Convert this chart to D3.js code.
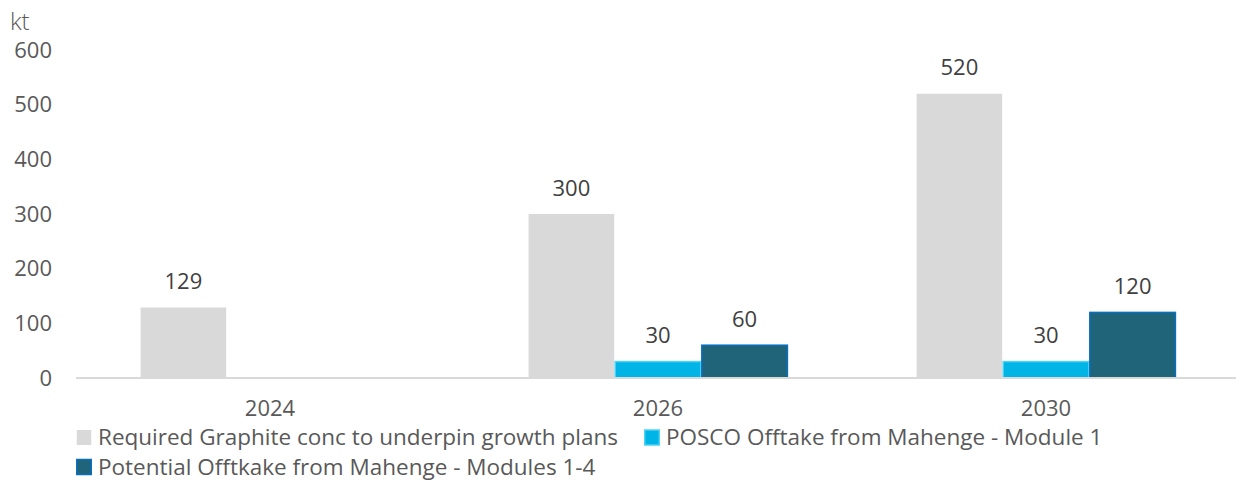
<!DOCTYPE html>
<html><head><meta charset="utf-8">
<script src="https://cdn.jsdelivr.net/npm/d3@7"></script>
<style>body{margin:0;background:#fff}svg{display:block}text{font-family:"Open Sans",sans-serif}</style>
</head><body><svg id="c" width="1236" height="483"></svg>
<script>
const categories = ["2024", "2026", "2030"];
const seriesNames = ["Required Graphite conc to underpin growth plans", "POSCO Offtake from Mahenge - Module 1", "Potential Offtkake from Mahenge - Modules 1-4"];
const required = [129, 300, 520];
const posco = [null, 30, 30];
const potential = [null, 60, 120];
const yTicks = [0, 100, 200, 300, 400, 500, 600];
const unitLabel = "kt";

const fills = ["#D9D9D9", "#00B4E6", "#1F6478"];
const strokes = ["#D9D9D9", "#4DD2F5", "#0A6FC0"];
const series = [required, posco, potential];

const svg = d3.select("#c");
const x = d3.scaleBand().domain(categories).range([76, 1240]);
const y = d3.scaleLinear().domain([0, 600]).range([378, 50]);
const inner = d3.scaleBand().domain(d3.range(3)).range([0, x.bandwidth()]).paddingOuter(0.74).paddingInner(0);

// y tick labels
svg.append("g").selectAll("text").data(yTicks).join("text")
  .attr("x", 52).attr("y", d => y(d)).attr("dy", "0.35em")
  .attr("text-anchor", "end").attr("fill", "#595959").style("font-size", "22px")
  .text(d => d);
svg.append("text").attr("x", 10).attr("y", 30)
  .attr("fill", "#595959").style("font-size", "24px").style("font-weight", 300).text(unitLabel);

// bars
series.forEach((vals, si) => {
  const g = svg.append("g");
  categories.forEach((c, ci) => {
    const v = vals[ci];
    if (v == null) return;
    const x0 = x(c) + inner(si);
    g.append("rect").attr("x", x0 + 0.5).attr("y", y(v)).attr("width", inner.bandwidth() - 1)
      .attr("height", y(0) - y(v)).attr("fill", fills[si])
      .attr("stroke", strokes[si]).attr("stroke-width", si === 0 ? 0 : 1.5);
    g.append("text").attr("x", x0 + inner.bandwidth() / 2).attr("y", y(v) - 26).attr("dy", "0.35em")
      .attr("text-anchor", "middle").attr("fill", "#404040").style("font-size", "22px").text(v);
  });
});

// x axis
svg.append("line").attr("x1", 76).attr("x2", 1236).attr("y1", y(0)).attr("y2", y(0))
  .attr("stroke", "#D9D9D9").attr("stroke-width", 2);
svg.append("g").selectAll("text").data(categories).join("text")
  .attr("x", d => x(d) + x.bandwidth() / 2).attr("y", 408).attr("dy", "0.35em")
  .attr("text-anchor", "middle").attr("fill", "#595959").style("font-size", "22px").text(d => d);

// legend
const legendPos = [[76, 437.5], [644, 437.5], [76, 467]];
seriesNames.forEach((n, i) => {
  const [lx, ly] = legendPos[i];
  svg.append("rect").attr("x", lx + 0.75).attr("y", ly - 7.5).attr("width", 14.5).attr("height", 15)
    .attr("fill", fills[i]).attr("stroke", strokes[i]).attr("stroke-width", i === 0 ? 0 : 1.5);
  svg.append("text").attr("x", lx + 22).attr("y", ly).attr("dy", "0.35em")
    .attr("fill", "#595959").style("font-size", "22.5px").text(n);
});
</script></body></html>
